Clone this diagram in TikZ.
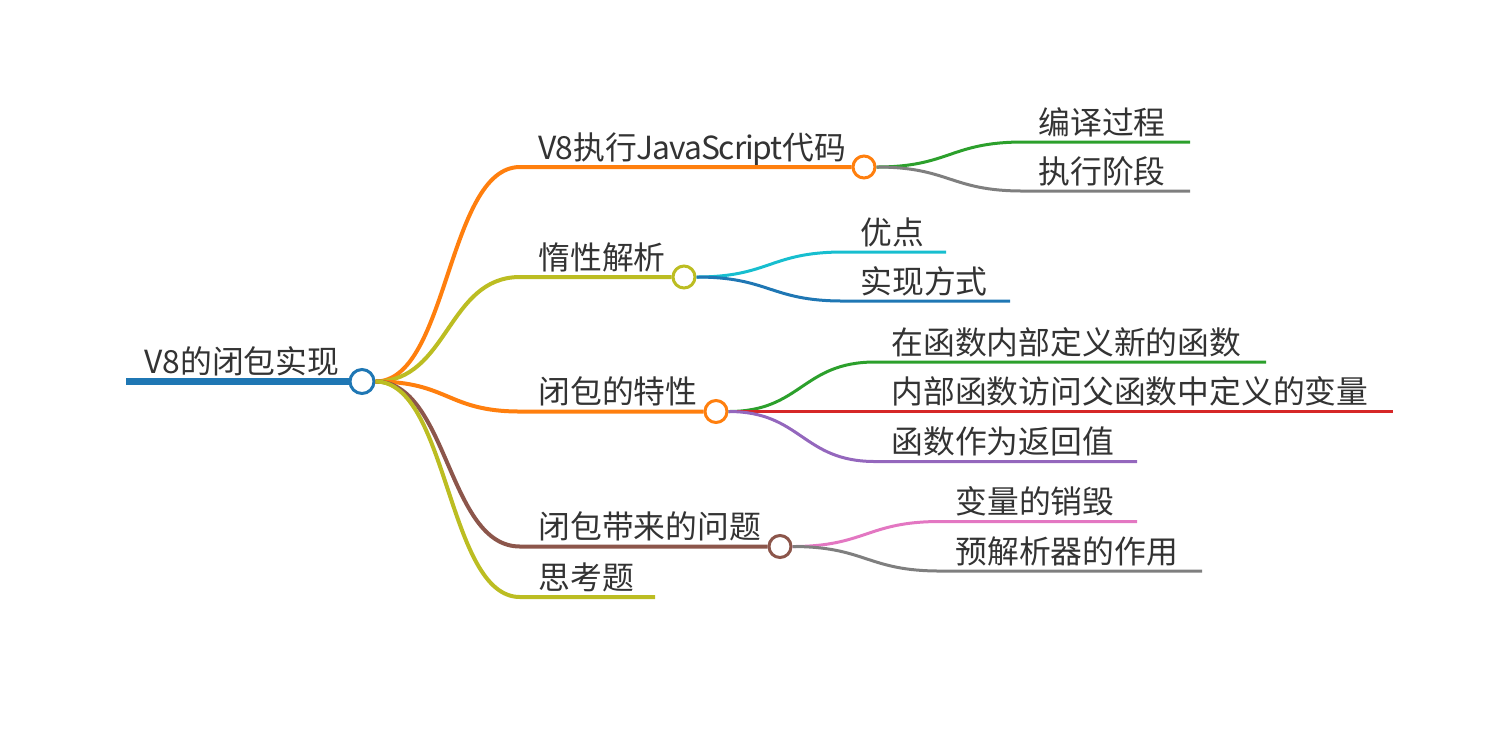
\documentclass[tikz,border=0pt]{standalone}
\usepackage{fontspec}
\setmainfont{Noto Sans CJK SC}
\usetikzlibrary{positioning}

\definecolor{cblue}{HTML}{1F77B4}
\definecolor{corange}{HTML}{FF7F0E}
\definecolor{cgreen}{HTML}{2CA02C}
\definecolor{cred}{HTML}{D62728}
\definecolor{cpurple}{HTML}{9467BD}
\definecolor{cbrown}{HTML}{8C564B}
\definecolor{cpink}{HTML}{E377C2}
\definecolor{cgray}{HTML}{7F7F7F}
\definecolor{colive}{HTML}{BCBD22}
\definecolor{ccyan}{HTML}{17BECF}
\definecolor{txt}{HTML}{333333}

\newcommand{\tightlatin}[1]{{\addfontfeatures{LetterSpace=-3.5}#1}}

\tikzset{
  dot/.style={circle, draw, fill=white, line width=1.5pt, inner sep=0pt, minimum size=11pt},
  topic/.style={anchor=base west, inner sep=0pt, text=txt, font=\fontsize{15.9}{19}\selectfont},
  branch/.style={line width=2pt},
  twig/.style={line width=1.5pt},
}

\begin{document}
\begin{tikzpicture}[x=0.5pt, y=-0.5pt]
\useasboundingbox (0,0) rectangle (1487,736);

% root
\coordinate (rootstart) at (126,381.5);
\node[dot, draw=cblue, minimum size=12pt] (root) at (362,381.5) {};
\node[topic] (rootlabel) at (144,373) {V8的闭包实现};
\draw[cblue, line width=3.5pt] (rootstart) -- (root.west);

% second level
\coordinate (j1) at (520,167);
\coordinate (j2) at (520,277);
\coordinate (j3) at (520,411.5);
\coordinate (j4) at (520,546.5);
\coordinate (j5) at (520,597);
\coordinate (e5) at (655,597);
\node[dot, draw=corange] (c1) at (864,167) {};
\node[dot, draw=colive] (c2) at (684,277) {};
\node[dot, draw=corange] (c3) at (716,411.5) {};
\node[dot, draw=cbrown] (c4) at (780,546.5) {};

\node[topic] (t1) at (538,159) {\tightlatin{V8}执行\tightlatin{JavaScript}代码};
\node[topic] (t2) at (538,269) {惰性解析};
\node[topic] (t3) at (538,403.5) {闭包的特性};
\node[topic] (t4) at (538,538.5) {闭包带来的问题};
\node[topic] (t5) at (538,589) {思考题};

\draw[branch, corange] (root.east) .. controls +(73,0) and +(-73,0) .. (j1) -- (c1.west);
\draw[branch, colive] (root.east) .. controls +(73,0) and +(-73,0) .. (j2) -- (c2.west);
\draw[branch, corange] (root.east) .. controls +(73,0) and +(-73,0) .. (j3) -- (c3.west);
\draw[branch, cbrown] (root.east) .. controls +(73,0) and +(-73,0) .. (j4) -- (c4.west);
\draw[branch, colive] (root.east) .. controls +(73,0) and +(-73,0) .. (j5) -- (e5);

% third level
\coordinate (j11) at (1023,142);
\coordinate (e11) at (1190,142);
\coordinate (j12) at (1023,191);
\coordinate (e12) at (1190,191);
\node[topic] (t11) at (1038,134) {编译过程};
\node[topic] (t12) at (1038,183) {执行阶段};
\draw[twig, cgreen] (c1.east) .. controls +(73,0) and +(-73,0) .. (j11) -- (e11);
\draw[twig, cgray] (c1.east) .. controls +(73,0) and +(-73,0) .. (j12) -- (e12);

\coordinate (j21) at (843,252);
\coordinate (e21) at (946,252);
\coordinate (j22) at (843,301);
\coordinate (e22) at (1010,301);
\node[topic] (t21) at (860,244) {优点};
\node[topic] (t22) at (860,293) {实现方式};
\draw[twig, ccyan] (c2.east) .. controls +(73,0) and +(-73,0) .. (j21) -- (e21);
\draw[twig, cblue] (c2.east) .. controls +(73,0) and +(-73,0) .. (j22) -- (e22);

\coordinate (j31) at (875,362);
\coordinate (e31) at (1266,362);
\coordinate (j32) at (875,411.5);
\coordinate (e32) at (1393,411.5);
\coordinate (j33) at (875,461.5);
\coordinate (e33) at (1137,461.5);
\node[topic] (t31) at (891,354) {在函数内部定义新的函数};
\node[topic] (t32) at (891,403.5) {内部函数访问父函数中定义的变量};
\node[topic] (t33) at (891,453.5) {函数作为返回值};
\draw[twig, cgreen] (c3.east) .. controls +(73,0) and +(-73,0) .. (j31) -- (e31);
\draw[twig, cred] (c3.east) -- (j32) -- (e32);
\draw[twig, cpurple] (c3.east) .. controls +(73,0) and +(-73,0) .. (j33) -- (e33);

\coordinate (j41) at (940,521.5);
\coordinate (e41) at (1137,521.5);
\coordinate (j42) at (940,571);
\coordinate (e42) at (1202,571);
\node[topic] (t41) at (955,513.5) {变量的销毁};
\node[topic] (t42) at (955,563) {预解析器的作用};
\draw[twig, cpink] (c4.east) .. controls +(73,0) and +(-73,0) .. (j41) -- (e41);
\draw[twig, cgray] (c4.east) .. controls +(73,0) and +(-73,0) .. (j42) -- (e42);
\end{tikzpicture}
\end{document}
